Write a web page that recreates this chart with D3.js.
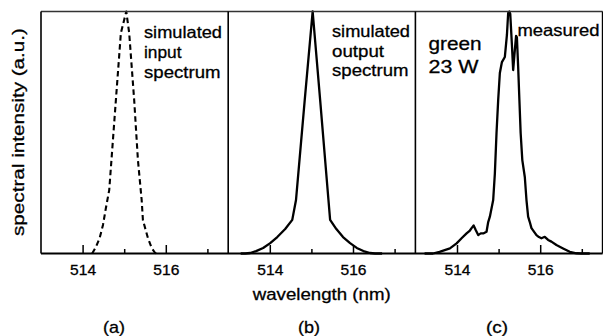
<!DOCTYPE html>
<html>
<head>
<meta charset="utf-8">
<script src="https://cdn.jsdelivr.net/npm/d3@7"></script>
<style>
  html, body { margin: 0; padding: 0; background: #fff; }
  svg { display: block; font-family: "Liberation Sans", Arial, Helvetica, sans-serif; }
  svg text { fill: #000; stroke: #000; stroke-width: 0.3px; }
</style>
</head>
<body>
<svg id="chart" width="603" height="336"></svg>
<script>
// ---- data -------------------------------------------------------------
const panelLabels = ["(a)", "(b)", "(c)"];
const majorTicks = [514, 516];
const minorTicks = [515, 517];
const xDomain = [513, 517.5];

// (a) simulated input spectrum (dashed)
const inputWavelength = [514.23, 514.32, 514.41, 514.49, 514.56, 514.64, 514.80, 514.92, 515.05,
                         515.12, 515.24, 515.33, 515.42, 515.45, 515.57, 515.66, 515.74, 515.80];
const inputIntensity  = [0, 0.027, 0.064, 0.118, 0.188, 0.262, 0.634, 0.911, 1.0,
                         0.911, 0.634, 0.386, 0.221, 0.138, 0.064, 0.023, 0.003, 0];

// (b) simulated output spectrum
const outputWavelength = [513.30, 513.41, 513.53, 513.67, 513.84, 514.01, 514.18, 514.37, 514.54, 514.63,
                          514.84, 515.03, 515.21, 515.41, 515.45, 515.60, 515.76, 515.93, 516.09, 516.25,
                          516.41, 516.53, 516.70];
const outputIntensity  = [0, 0, 0.002, 0.010, 0.023, 0.043, 0.068, 0.101, 0.139, 0.221,
                          0.635, 1.0, 0.635, 0.221, 0.139, 0.101, 0.068, 0.043, 0.023, 0.010,
                          0.002, 0, 0];

// (c) measured spectrum, green 23 W
const measuredWavelength = [513.22, 513.42, 513.58, 513.83, 513.99, 514.11, 514.23, 514.31, 514.35, 514.40,
                            514.45, 514.51, 514.57, 514.63, 514.71, 514.75, 514.79, 514.87, 514.91, 514.95,
                            514.99, 515.03, 515.08, 515.15, 515.20, 515.23, 515.26, 515.28, 515.32, 515.35,
                            515.38, 515.42, 515.44, 515.47, 515.50, 515.53, 515.57, 515.63, 515.67, 515.71,
                            515.75, 515.79, 515.91, 515.97, 516.03, 516.11, 516.19, 516.27, 516.39, 516.55,
                            516.71, 516.87, 516.99, 517.19];
const measuredIntensity  = [0, 0, 0.007, 0.021, 0.042, 0.063, 0.083, 0.095, 0.105, 0.116,
                            0.097, 0.076, 0.083, 0.083, 0.090, 0.130, 0.152, 0.221, 0.330, 0.498,
                            0.634, 0.746, 0.791, 0.812, 0.903, 0.994, 1.0, 0.990, 0.862, 0.758,
                            0.820, 0.899, 0.893, 0.772, 0.634, 0.498, 0.386, 0.316, 0.221, 0.152,
                            0.130, 0.105, 0.076, 0.068, 0.063, 0.069, 0.056, 0.049, 0.035, 0.021,
                            0.007, 0.001, 0, 0];

const annotationLines = [
  ["simulated", "input", "spectrum"],
  ["simulated", "output", "spectrum"],
  ["green", "23 W"]
];

// ---- layout -----------------------------------------------------------
const svg = d3.select("#chart");
const plotTop = 11.5, plotBottom = 253.5;
const firstLeft = 41, panelWidth = 187.2;

const y = d3.scaleLinear().domain([0, 1]).range([plotBottom, plotTop]);

// widths of the wide-set label type
const lineWidths = {
  "simulated": 78, "input": 37.5, "output": 52, "spectrum": 76.5,
  "green": 53, "23 W": 50
};

const series = [
  { wl: inputWavelength, v: inputIntensity, dashed: true },
  { wl: outputWavelength, v: outputIntensity, dashed: false },
  { wl: measuredWavelength, v: measuredIntensity, dashed: false }
];

series.forEach((s, i) => {
  const left = firstLeft + i * panelWidth;
  const x = d3.scaleLinear().domain(xDomain).range([left, left + panelWidth]);
  const g = svg.append("g");

  // spectrum trace
  const pts = s.wl.map((w, k) => [w, s.v[k]]);
  g.append("path")
    .datum(pts)
    .attr("fill", "none")
    .attr("stroke", "#000")
    .attr("stroke-width", s.dashed ? 2.1 : 2.3)
    .attr("stroke-linejoin", "round")
    .attr("stroke-dasharray", s.dashed ? "5.5,3.5" : null)
    .attr("d", d3.line().x(d => x(d[0])).y(d => y(d[1])));

  // minor ticks (inward, unlabeled)
  g.append("g")
    .attr("transform", `translate(0,${plotBottom})`)
    .call(d3.axisBottom(x).tickValues(minorTicks).tickSize(-4.5).tickFormat(""))
    .call(a => a.select(".domain").remove())
    .call(a => a.selectAll("line").attr("stroke", "#000").attr("stroke-width", 1.5));

  // major ticks with labels
  g.append("g")
    .attr("transform", `translate(0,${plotBottom})`)
    .call(d3.axisBottom(x).tickValues(majorTicks).tickSize(-8.5).tickPadding(11).tickFormat(d3.format("d")))
    .call(a => a.select(".domain").remove())
    .call(a => a.selectAll("line").attr("stroke", "#000").attr("stroke-width", 1.5))
    .call(a => a.selectAll("text")
      .attr("font-size", 14.5)
      .attr("font-family", "Liberation Sans, Arial, sans-serif")
      .attr("textLength", 26)
      .attr("lengthAdjust", "spacingAndGlyphs"));

  // panel caption
  svg.append("text")
    .attr("x", [114, 309, 497][i])
    .attr("y", 333)
    .attr("text-anchor", "middle")
    .attr("font-size", 17)
    .attr("textLength", 22)
    .attr("lengthAdjust", "spacingAndGlyphs")
    .text(panelLabels[i]);
});

// frame: outer box and panel dividers
const right = firstLeft + 3 * panelWidth;
svg.append("line").attr("x1", firstLeft).attr("x2", right).attr("y1", plotTop).attr("y2", plotTop)
  .attr("stroke", "#333").attr("stroke-width", 1.4);
svg.append("line").attr("x1", firstLeft).attr("x2", right).attr("y1", plotBottom).attr("y2", plotBottom)
  .attr("stroke", "#000").attr("stroke-width", 2);
[0, 1, 2, 3].forEach(k => {
  const xx = firstLeft + k * panelWidth;
  svg.append("line").attr("x1", xx).attr("x2", xx).attr("y1", plotTop).attr("y2", plotBottom)
    .attr("stroke", "#000").attr("stroke-width", 1.6);
});

// in-panel annotations
const annoPos = [
  { x: 144, y0: 37.5, dy: 20, size: 16.5 },
  { x: 332, y0: 37, dy: 19.7, size: 16.5 },
  { x: 428.5, y0: 50, dy: 22.5, size: 18.5 }
];
annotationLines.forEach((lines, i) => {
  lines.forEach((ln, k) => {
    svg.append("text")
      .attr("x", annoPos[i].x)
      .attr("y", annoPos[i].y0 + k * annoPos[i].dy)
      .attr("font-size", annoPos[i].size)
      .attr("textLength", lineWidths[ln])
      .attr("lengthAdjust", "spacingAndGlyphs")
      .text(ln);
  });
});
svg.append("text")
  .attr("x", 517.5).attr("y", 36)
  .attr("font-size", 16.5)
  .attr("textLength", 82)
  .attr("lengthAdjust", "spacingAndGlyphs")
  .text("measured");

// axis titles
svg.append("text")
  .attr("x", 321.7).attr("y", 300)
  .attr("text-anchor", "middle")
  .attr("font-size", 17)
  .attr("textLength", 138)
  .attr("lengthAdjust", "spacingAndGlyphs")
  .text("wavelength (nm)");

svg.append("text")
  .attr("transform", "translate(23.5,132) rotate(-90)")
  .attr("text-anchor", "middle")
  .attr("font-size", 16.5)
  .attr("textLength", 208)
  .attr("lengthAdjust", "spacingAndGlyphs")
  .text("spectral intensity (a.u.)");
</script>
</body>
</html>
